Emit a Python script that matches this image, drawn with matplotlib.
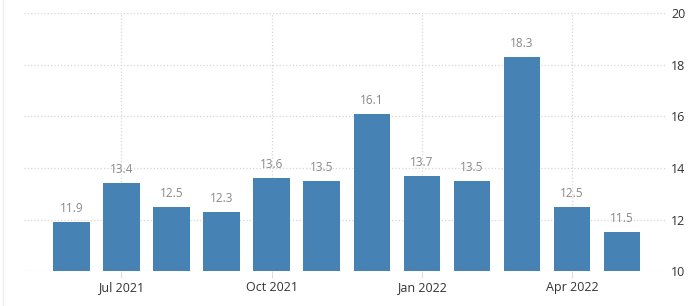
import matplotlib.pyplot as plt
import numpy as np

plt.rcParams['font.family'] = ['Open Sans', 'DejaVu Sans']

months = ['Jun 2021', 'Jul 2021', 'Aug 2021', 'Sep 2021', 'Oct 2021', 'Nov 2021',
          'Dec 2021', 'Jan 2022', 'Feb 2022', 'Mar 2022', 'Apr 2022', 'May 2022']
values = [11.9, 13.4, 12.5, 12.3, 13.6, 13.5, 16.1, 13.7, 13.5, 18.3, 12.5, 11.5]
tick_months = ['Jul 2021', 'Oct 2021', 'Jan 2022', 'Apr 2022']
y_ticks = [10, 12, 14, 16, 18, 20]

fig = plt.figure(figsize=(7, 3.06), dpi=100)
ax = fig.add_axes([0.034, 0.114, 0.917, 0.843])

x = np.arange(len(months))
ax.bar(x, values, width=0.73, color='#4682b4', zorder=3)
for xi, v in zip(x, values):
    ax.annotate(f'{v}', (xi, v), xytext=(0, 5), textcoords='offset points',
                ha='center', va='bottom', fontsize=8.5, color='#888888', zorder=4)

ax.set_xlim(-0.95, 11.87)
ax.set_ylim(10, 20)
ax.set_yticks(y_ticks)
ax.set_xticks([months.index(m) for m in tick_months])
ax.set_xticklabels(tick_months)

ax.yaxis.tick_right()
ax.tick_params(axis='y', length=0, pad=4, labelsize=9, labelcolor='#333333')
ax.tick_params(axis='x', length=5, color='#dddddd', pad=2, labelsize=9, labelcolor='#333333')
ax.grid(True, color='#d6d6d6', linestyle=':', linewidth=0.9, zorder=0)
for s in ax.spines.values():
    s.set_visible(False)

fig.add_artist(plt.Line2D([0.004, 0.004], [0.0, 1.0], color='#eeeeee', linewidth=1))

fig.savefig('out.png', dpi=100)
